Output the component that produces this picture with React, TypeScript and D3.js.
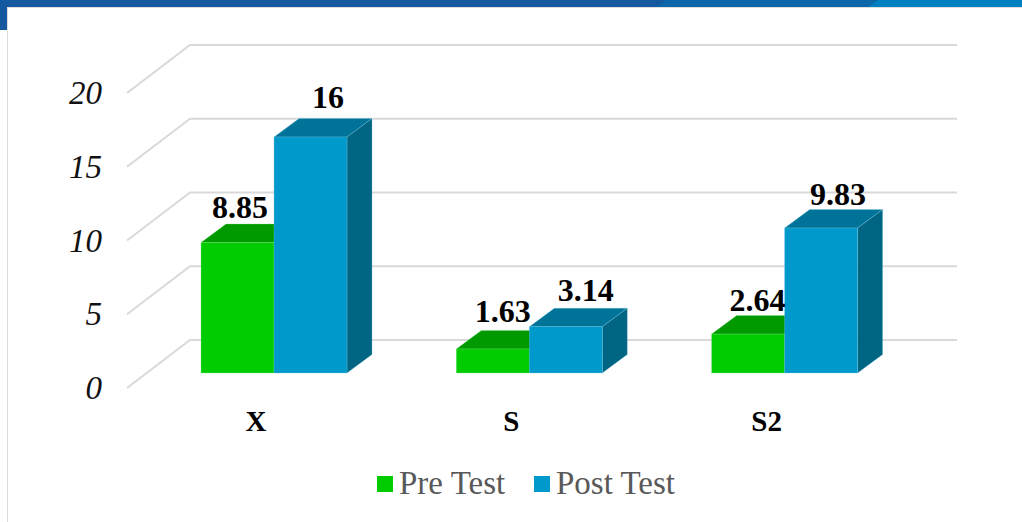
import React from "react";
import * as d3 from "d3";

const categories = ["X", "S", "S2"];
const seriesNames = ["Pre Test", "Post Test"];
const preTest = [8.85, 1.63, 2.64];
const postTest = [16, 3.14, 9.83];
const preLabels = ["8.85", "1.63", "2.64"];
const postLabels = ["16", "3.14", "9.83"];
const yTicks = [0, 5, 10, 15, 20];

const DX = 25;
const DY = 18.5;
const serif = "'Liberation Serif', serif";
const barW = 73;
const preLabelShift = [[2.5, -24], [10, -26.5], [9.5, -23.5]];
const postLabelShift = [[17.5, -29], [20, -26], [17, -23]];

const y = d3.scaleLinear().domain([0, 20]).range([373, 78]);
const xCenter = d3.scalePoint().domain(categories).range([274, 784.6]);

function Bar({ left, value, front, edge, top, side }: { left: number; value: number; front: string; edge: string; top: string; side: string }) {
  const yt = y(value);
  const yb = y(0);
  const r = left + barW;
  const topPath = d3.line()([[left, yt], [left + DX, yt - DY], [r + DX, yt - DY], [r, yt]]) + "Z";
  const sidePath = d3.line()([[r, yt], [r + DX, yt - DY], [r + DX, yb - DY], [r, yb]]) + "Z";
  return (
    <g>
      <path d={topPath} fill={top} stroke={edge} strokeWidth={0.5} strokeOpacity={0.6} />
      <path d={sidePath} fill={side} stroke={edge} strokeWidth={0.5} strokeOpacity={0.6} />
      <rect x={left} y={yt} width={barW} height={yb - yt} fill={front} stroke={edge} strokeWidth={0.5} strokeOpacity={0.6} />
    </g>
  );
}

export default function App() {
  return (
    <svg width={1022} height={522} style={{ position: "absolute", left: 0, top: 0, background: "#fff" }}>
      <rect x={0} y={0} width={1022} height={7} fill="#14589f" />
      <path d={d3.line()([[656, 7], [666, 0], [880, 0], [870, 7]]) + "Z"} fill="#0c66a8" />
      <path d={d3.line()([[868, 7], [878, 0], [1022, 0], [1022, 7]]) + "Z"} fill="#0280c0" />
      <rect x={0} y={0} width={7} height={30} fill="#14589f" />
      <rect x={7} y={7} width={1015} height={1} fill="#dfdfdf" />
      <rect x={7} y={7} width={1} height={515} fill="#dcdcdc" />

      {yTicks.map((t) => (
        <g key={t}>
          <path
            d={d3.line()([[127, y(t) + 15], [190, y(t) - 33], [957, y(t) - 33]]) ?? ""}
            fill="none"
            stroke="#d9d9d9"
            strokeWidth={2}
          />
          <text x={102} y={y(t) + 26} textAnchor="end" fontFamily={serif} fontStyle="italic" fontSize={33} fill="#111">
            {t}
          </text>
        </g>
      ))}

      {categories.map((c, i) => {
        const cx = xCenter(c) as number;
        return (
          <g key={c}>
            <Bar left={cx - barW} value={preTest[i]} front="#00cc00" edge="#80e680" top="#009900" side="#009900" />
            <Bar left={cx} value={postTest[i]} front="#0099cc" edge="#80cce6" top="#007399" side="#006483" />
            <text x={cx - barW / 2 + preLabelShift[i][0]} y={y(preTest[i]) + preLabelShift[i][1]} textAnchor="middle" fontFamily={serif} fontWeight="bold" fontSize={32} fill="#000">
              {preLabels[i]}
            </text>
            <text x={cx + barW / 2 + postLabelShift[i][0]} y={y(postTest[i]) + postLabelShift[i][1]} textAnchor="middle" fontFamily={serif} fontWeight="bold" fontSize={32} fill="#000">
              {postLabels[i]}
            </text>
            <text x={cx - 18} y={431} textAnchor="middle" fontFamily={serif} fontWeight="bold" fontSize={29} fill="#000">
              {c}
            </text>
          </g>
        );
      })}

      <rect x={377} y={476} width={16} height={16} fill="#00cc00" />
      <text x={399} y={494} fontFamily={serif} fontSize={33} fill="#595959">{seriesNames[0]}</text>
      <rect x={534} y={476} width={16} height={16} fill="#0099cc" />
      <text x={556} y={494} fontFamily={serif} fontSize={33} fill="#595959">{seriesNames[1]}</text>
    </svg>
  );
}
